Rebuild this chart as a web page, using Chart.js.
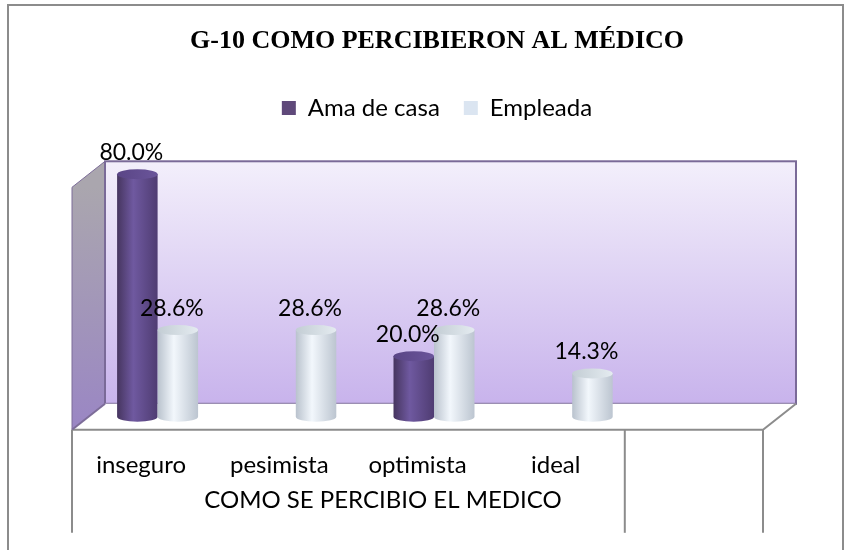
<!DOCTYPE html>
<html>
<head>
<meta charset="utf-8">
<script src="https://cdn.jsdelivr.net/npm/chart.js@4.4.0/dist/chart.umd.min.js"></script>
<style>
    body { margin: 0; background: #fff; }
    #marco { position: absolute; left: 7px; top: 4px; width: 837px; height: 560px; border: 2px solid #8c8c8c; box-sizing: border-box; }
    canvas { position: absolute; left: 0; top: 0; }
</style>
</head>
<body>
<div id="marco"></div>
<canvas id="grafico" width="851" height="550"></canvas>
<script>
// datos del grafico
const categorias = ['inseguro', 'pesimista', 'optimista', 'ideal', ''];
const amaDeCasa = [80.0, null, 20.0, null, null];
const empleada = [28.6, 28.6, 28.6, 14.3, null];
const grupo = 'COMO SE PERCIBIO EL MEDICO';
const topePared = 80;

// profundidad del efecto 3D (frente -> fondo)
const PROF_X = 33;
const PROF_Y = -26;

const coloresCilindro = [
    { lados: ['#46355f', '#6f59a0', '#4f3c72'], tapa: ['#5a4586', '#6a559a'] },
    { lados: ['#b9c2cd', '#f2f7fc', '#bcc5d0'], tapa: ['#c3cdd4', '#e4ebf0'] }
];

function cilindro(ctx, cx, yTop, yBase, w, col) {
    const rx = w / 2, ry = 5;
    let g = ctx.createLinearGradient(cx - rx, 0, cx + rx, 0);
    g.addColorStop(0, col.lados[0]);
    g.addColorStop(0.4, col.lados[1]);
    g.addColorStop(1, col.lados[2]);
    ctx.fillStyle = g;
    ctx.beginPath();
    ctx.moveTo(cx - rx, yTop);
    ctx.lineTo(cx - rx, yBase);
    ctx.ellipse(cx, yBase, rx, ry, 0, Math.PI, 0, true);
    ctx.lineTo(cx + rx, yTop);
    ctx.closePath();
    ctx.fill();

    let t = ctx.createLinearGradient(cx - rx, yTop, cx + rx, yTop);
    t.addColorStop(0, col.tapa[0]);
    t.addColorStop(1, col.tapa[1]);
    ctx.fillStyle = t;
    ctx.beginPath();
    ctx.ellipse(cx, yTop, rx, ry, 0, 0, Math.PI * 2);
    ctx.fill();
}

const plugin3d = {
    id: 'efecto3d',
    beforeDatasetsDraw(chart) {
        const { ctx, chartArea, scales } = chart;
        const L = chartArea.left, R = chartArea.right;
        const y0 = scales.y.getPixelForValue(0);
        const yT = scales.y.getPixelForValue(topePared);
        ctx.save();

        // pared lateral
        let gl = ctx.createLinearGradient(0, yT, 0, y0);
        gl.addColorStop(0, '#aaa6ae');
        gl.addColorStop(1, '#9a86c4');
        ctx.fillStyle = gl;
        ctx.beginPath();
        ctx.moveTo(L, yT);
        ctx.lineTo(L + PROF_X, yT + PROF_Y);
        ctx.lineTo(L + PROF_X, y0 + PROF_Y);
        ctx.lineTo(L, y0);
        ctx.closePath();
        ctx.fill();
        ctx.strokeStyle = '#7d6d99';
        ctx.lineWidth = 1;
        ctx.stroke();

        // pared del fondo
        let gf = ctx.createLinearGradient(0, yT + PROF_Y, 0, y0 + PROF_Y);
        gf.addColorStop(0, '#f3effb');
        gf.addColorStop(1, '#c8b3ec');
        ctx.fillStyle = gf;
        ctx.fillRect(L + PROF_X, yT + PROF_Y, R - L, y0 - yT);
        ctx.strokeStyle = '#7a6a98';
        ctx.lineWidth = 2;
        ctx.strokeRect(L + PROF_X, yT + PROF_Y, R - L, y0 - yT);

        // piso
        ctx.fillStyle = '#ffffff';
        ctx.beginPath();
        ctx.moveTo(L, y0);
        ctx.lineTo(L + PROF_X, y0 + PROF_Y);
        ctx.lineTo(R + PROF_X, y0 + PROF_Y);
        ctx.lineTo(R, y0);
        ctx.closePath();
        ctx.fill();
        ctx.strokeStyle = '#8c8c8c';
        ctx.lineWidth = 2;
        ctx.beginPath();
        ctx.moveTo(L, y0);
        ctx.lineTo(R, y0);
        ctx.lineTo(R + PROF_X, y0 + PROF_Y);
        ctx.stroke();
        ctx.strokeStyle = '#7d6d99';
        ctx.beginPath();
        ctx.moveTo(L, y0);
        ctx.lineTo(L + PROF_X, y0 + PROF_Y);
        ctx.stroke();

        // lineas de la tabla del eje
        const sep = (scales.x.getPixelForValue(3) + scales.x.getPixelForValue(4)) / 2;
        const yFin = y0 + 103;
        ctx.strokeStyle = '#8c8c8c';
        ctx.lineWidth = 2;
        [L, sep, R].forEach(function (px) {
            ctx.beginPath();
            ctx.moveTo(px, y0);
            ctx.lineTo(px, yFin);
            ctx.stroke();
        });
        ctx.restore();
    },
    beforeDatasetDraw() {
        return false;
    },
    afterDatasetsDraw(chart) {
        const ctx = chart.ctx;
        ctx.save();
        chart.data.datasets.forEach(function (ds, d) {
            const meta = chart.getDatasetMeta(d);
            meta.data.forEach(function (bar, i) {
                if (ds.data[i] == null) return;
                const p = bar.getProps(['x', 'y', 'base', 'width'], true);
                cilindro(ctx, p.x + PROF_X / 2, p.y + PROF_Y / 2, p.base + PROF_Y / 2, p.width, coloresCilindro[d]);
            });
        });
        ctx.font = '23px Lato';
        ctx.fillStyle = '#000';
        ctx.textAlign = 'center';
        ctx.textBaseline = 'middle';
        chart.data.datasets.forEach(function (ds, d) {
            const meta = chart.getDatasetMeta(d);
            meta.data.forEach(function (bar, i) {
                if (ds.data[i] == null) return;
                const p = bar.getProps(['x', 'y'], true);
                ctx.fillText(ds.data[i].toFixed(1) + '%', p.x + PROF_X / 2 - 6, p.y + PROF_Y / 2 - 22);
            });
        });
        ctx.restore();
    }
};

new Chart(document.getElementById('grafico'), {
    type: 'bar',
    data: {
        labels: categorias,
        datasets: [
            { label: 'Ama de casa', data: amaDeCasa, backgroundColor: '#5f497a', borderWidth: 0 },
            { label: 'Empleada', data: empleada, backgroundColor: '#dbe5f1', borderWidth: 0 }
        ]
    },
    options: {
        responsive: false,
        animation: false,
        layout: { padding: { left: 23, right: 0, top: 0, bottom: 36 } },
        datasets: { bar: { barPercentage: 1, categoryPercentage: 0.586 } },
        plugins: {
            title: {
                display: true,
                text: 'G-10 COMO PERCIBIERON AL MÉDICO',
                color: '#000',
                font: { family: 'Liberation Serif', size: 26, weight: 'bold' },
                padding: { top: 26, bottom: 14.8 }
            },
            legend: {
                position: 'top',
                labels: {
                    color: '#000',
                    font: { family: 'Lato', size: 24 },
                    boxWidth: 14,
                    boxHeight: 14,
                    padding: 24
                }
            },
            tooltip: { enabled: false }
        },
        scales: {
            x: {
                weight: 0,
                offset: true,
                grid: { display: false, drawTicks: false },
                border: { display: false },
                ticks: { color: '#000', font: { family: 'Lato', size: 24 }, padding: 21, maxRotation: 0, autoSkip: false },
                afterFit: function (s) { s.height = 49.8; }
            },
            x2: {
                type: 'linear',
                position: 'bottom',
                weight: 1,
                min: -0.5,
                max: 4.5,
                afterBuildTicks: function (s) { s.ticks = [{ value: 1.5 }]; },
                grid: { display: false, drawTicks: false },
                border: { display: false },
                ticks: { color: '#000', font: { family: 'Lato', size: 24 }, padding: 6, maxRotation: 0, autoSkip: false, callback: function () { return grupo; } },
                afterFit: function (s) { s.height = 34.4; }
            },
            y: {
                min: 0,
                max: 98.9,
                grid: { display: false, drawTicks: false },
                border: { display: false },
                ticks: { display: false },
                afterFit: function (s) { s.width = 49; }
            },
            y2: {
                position: 'right',
                grid: { display: false, drawTicks: false },
                border: { display: false },
                ticks: { display: false },
                afterFit: function (s) { s.width = 88; }
            }
        }
    },
    plugins: [plugin3d]
});
</script>
</body>
</html>
